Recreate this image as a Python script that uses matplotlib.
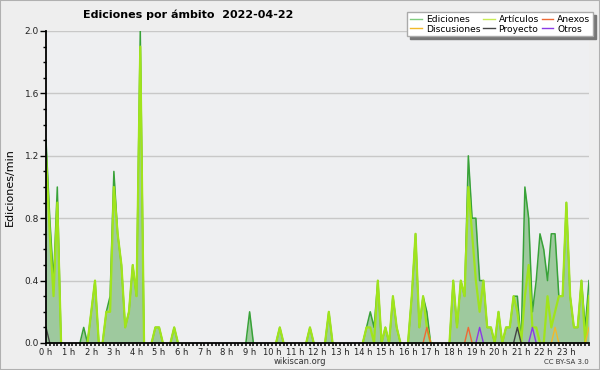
import numpy as np
import matplotlib
matplotlib.use('Agg')
import matplotlib.pyplot as plt
from matplotlib.patches import Rectangle
from matplotlib.lines import Line2D

# values per 10 minute slot, 00:00 .. 24:00 (edits per minute)
ediciones = [
    1.3, 0.8, 0.4, 1.0, 0, 0,          # 0 h
    0, 0, 0, 0, 0.1, 0,                # 1 h
    0.2, 0.4, 0, 0, 0.2, 0.3,          # 2 h
    1.1, 0.7, 0.5, 0.1, 0.2, 0.5,      # 3 h
    0.3, 2.0, 0, 0, 0, 0.1,            # 4 h
    0.1, 0, 0, 0, 0.1, 0,              # 5 h
    0, 0, 0, 0, 0, 0,                  # 6 h
    0, 0, 0, 0, 0, 0,                  # 7 h
    0, 0, 0, 0, 0, 0,                  # 8 h
    0.2, 0, 0, 0, 0, 0,                # 9 h
    0, 0, 0.1, 0, 0, 0,                # 10 h
    0, 0, 0, 0, 0.1, 0,                # 11 h
    0, 0, 0, 0.2, 0, 0,                # 12 h
    0, 0, 0, 0, 0, 0,                  # 13 h
    0, 0.1, 0.2, 0.1, 0.4, 0,          # 14 h
    0.1, 0, 0.3, 0.1, 0, 0,            # 15 h
    0, 0.3, 0.7, 0.1, 0.3, 0.2,        # 16 h
    0, 0, 0, 0, 0, 0,                  # 17 h
    0.4, 0.1, 0.4, 0.3, 1.2, 0.8,      # 18 h
    0.8, 0.4, 0.4, 0.1, 0.1, 0,        # 19 h
    0.2, 0, 0.1, 0.1, 0.3, 0.3,        # 20 h
    0, 1.0, 0.8, 0.2, 0.4, 0.7,        # 21 h
    0.6, 0.4, 0.7, 0.7, 0.3, 0.3,      # 22 h
    0.9, 0.3, 0.1, 0.1, 0.4, 0.1,      # 23 h
    0.4,
]

articulos = [
    1.2, 0.7, 0.3, 0.9, 0, 0,
    0, 0, 0, 0, 0, 0,
    0.2, 0.4, 0, 0, 0.2, 0.2,
    1.0, 0.7, 0.5, 0.1, 0.2, 0.5,
    0.3, 1.9, 0, 0, 0, 0.1,
    0.1, 0, 0, 0, 0.1, 0,
    0, 0, 0, 0, 0, 0,
    0, 0, 0, 0, 0, 0,
    0, 0, 0, 0, 0, 0,
    0, 0, 0, 0, 0, 0,
    0, 0, 0.1, 0, 0, 0,
    0, 0, 0, 0, 0.1, 0,
    0, 0, 0, 0.2, 0, 0,
    0, 0, 0, 0, 0, 0,
    0, 0.1, 0.1, 0, 0.4, 0,
    0.1, 0, 0.3, 0.1, 0, 0,
    0, 0.3, 0.7, 0.1, 0.3, 0.1,
    0, 0, 0, 0, 0, 0,
    0.4, 0.1, 0.4, 0.3, 1.0, 0.7,
    0.4, 0.2, 0.4, 0.1, 0.1, 0,
    0.2, 0, 0.1, 0.1, 0.3, 0.2,
    0, 0.3, 0.5, 0.1, 0.1, 0,
    0, 0.3, 0.1, 0.2, 0.3, 0.3,
    0.9, 0.3, 0.1, 0.1, 0.4, 0,
    0.3,
]

# the small namespaces only have a few non zero slots
anexos = {'16:50': 0.1, '18:40': 0.1}
discusiones = {'22:30': 0.1, '24:00': 0.1}
proyecto = {'00:00': 0.1, '20:50': 0.1}
otros = {'19:10': 0.1, '21:30': 0.1}

hour_labels = ['%d h' % h for h in range(24)]

n = len(ediciones)
t = np.arange(n) / 6.0


def from_slots(d):
    arr = np.zeros(n)
    for k, v in d.items():
        hh, mm = k.split(':')
        arr[int(hh) * 6 + int(mm) // 10] = v
    return arr


def hide_flat(y):
    # don't draw zero runs on top of the axis line
    y = np.asarray(y, dtype=float)
    keep = y > 0
    keep[1:] |= y[:-1] > 0
    keep[:-1] |= y[1:] > 0
    return np.where(keep, y, np.nan)


fig = plt.figure(figsize=(6, 3.7), dpi=100, facecolor='#eeeeee')
ax = fig.add_axes([46 / 600, 27 / 370, 543 / 600, 312 / 370])
ax.set_facecolor('#eeeff1')

ed = np.array(ediciones)
ax.fill_between(t, 0, ed, color='#9ec99e', lw=0, zorder=1)
ax.plot(t, hide_flat(ed), color='#38a238', lw=1.1, zorder=3)
ax.plot(t, hide_flat(articulos), color='#a0e41c', lw=1.6, zorder=4)

colors = {'anexos': '#ee6a35', 'discusiones': '#f2b92a',
          'proyecto': '#444444', 'otros': '#8a3ae6'}
ax.plot(t, hide_flat(from_slots(anexos)), color=colors['anexos'], lw=1, zorder=5)
ax.plot(t, hide_flat(from_slots(discusiones)), color=colors['discusiones'], lw=1, zorder=5)
ax.plot(t, hide_flat(from_slots(proyecto)), color=colors['proyecto'], lw=1, zorder=5)
ax.plot(t, hide_flat(from_slots(otros)), color=colors['otros'], lw=1, zorder=5)

ax.set_xlim(0, 24)
ax.set_ylim(0, 2.0)

ax.set_xticks(range(24))
ax.set_xticklabels(hour_labels)
ax.set_xticks(np.arange(0, 24.01, 1 / 6), minor=True)
ax.tick_params(axis='x', which='both', length=2.5, width=1.1, pad=1,
               labelsize=6, labelcolor='#222222')

ax.set_yticks(np.arange(0, 2.01, 0.4))
ax.set_yticklabels(['%.1f' % v for v in np.arange(0, 2.01, 0.4)])
ax.set_yticks(np.arange(0, 2.01, 0.1), minor=True)
ax.tick_params(axis='y', which='major', length=4, width=1, pad=1,
               labelsize=6.5, labelcolor='#222222')
ax.tick_params(axis='y', which='minor', length=2.5, width=1)

ax.grid(axis='y', which='major', color='#c8c8c8', lw=1)
ax.set_axisbelow(True)
for s in ['top', 'right']:
    ax.spines[s].set_visible(False)
for s in ['left', 'bottom']:
    ax.spines[s].set_linewidth(1.3)
    ax.spines[s].set_zorder(6)

fig.text(188 / 600, 1 - 15 / 370, 'Ediciones por ámbito  2022-04-22',
         ha='center', va='center', fontsize=8, fontweight='bold')
fig.text(9.5 / 600, 1 - 187 / 370, 'Ediciones/min', rotation=90,
         ha='center', va='center', fontsize=8)
fig.text(300 / 600, 1 - 361 / 370, 'wikiscan.org', ha='center', va='center',
         fontsize=6, color='#333333')
fig.text(589 / 600, 1 - 362 / 370, 'CC BY-SA 3.0', ha='right', va='center',
         fontsize=5, color='#333333')

handles = [
    Line2D([], [], color='#7fcc7f', lw=1),
    Line2D([], [], color=colors['discusiones'], lw=1),
    Line2D([], [], color='#c8ec55', lw=1),
    Line2D([], [], color=colors['proyecto'], lw=1),
    Line2D([], [], color=colors['anexos'], lw=1),
    Line2D([], [], color=colors['otros'], lw=1),
]
labels = ['Ediciones', 'Discusiones', 'Artículos', 'Proyecto', 'Anexos', 'Otros']
leg = fig.legend(handles, labels, loc='upper right', bbox_to_anchor=(593 / 600, 1 - 12 / 370),
                 ncol=3, fontsize=6.6, frameon=True, fancybox=False,
                 shadow={'color': '#777777', 'alpha': 1}, handlelength=1.3,
                 handletextpad=0.4, columnspacing=0.3, labelspacing=0.1,
                 borderpad=0.3, borderaxespad=0)
leg.get_frame().set_edgecolor('#aaaaaa')
leg.get_frame().set_facecolor('white')
leg.get_frame().set_linewidth(1)

fig.add_artist(Rectangle((0, 0), 1, 1, transform=fig.transFigure, fill=False,
                         edgecolor='#b0b0b0', lw=1.5))

fig.savefig('out.png', dpi=100, facecolor=fig.get_facecolor())
